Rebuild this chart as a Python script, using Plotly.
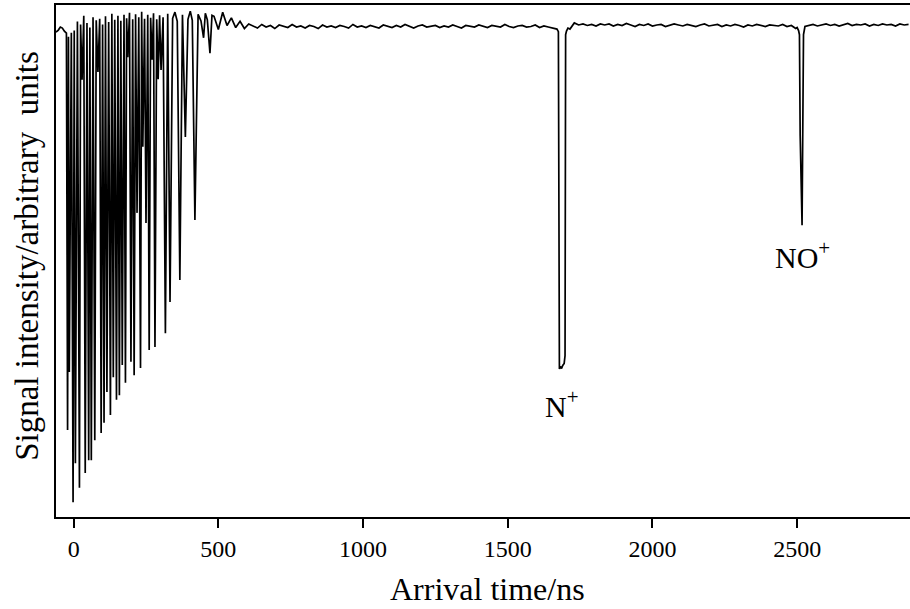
import plotly.graph_objects as go

# ---------------- data (arrival time in ns, signal in arbitrary units) ----------------
# baseline before the first ions arrive
pre_t = [-61, -53, -46, -39, -32, -25]
pre_v = [94.7, 95.1, 95.7, 95.5, 94.9, 94.5]

# dense train of light-ion arrival spikes (time, minimum of spike)
spike_t = [-21, -15, -2, 6, 20, 29, 40, 52, 61, 73, 84, 95, 105, 115, 127, 137, 148, 158,
           168, 179, 187, 198, 209, 219, 231, 239, 250, 261, 271, 281, 292, 302, 317, 333,
           367, 386, 419, 471]
spike_v = [17.0, 28.3, 2.9, 10.5, 5.7, 85.4, 8.6, 11.1, 11.1, 15.0, 86.9, 16.4, 18.4, 24.4,
           19.9, 27.3, 22.9, 23.8, 29.7, 26.2, 89.8, 30.3, 27.7, 59.4, 29.1, 72.3, 57.4, 32.6,
           89.3, 33.2, 85.5, 87.3, 35.9, 42.0, 46.3, 74.2, 58.0, 90.6]

# signal level between the spikes in the dense region
gap_t = [-18, -8, 2, 13, 24, 35, 46, 56, 67, 78, 90, 100, 110, 121, 132, 142, 153, 163, 174,
         183, 193, 204, 214, 225, 235, 245, 256, 266, 276, 287, 297, 309, 325, 342, 350, 358,
         376, 395, 403, 410, 430, 440, 449, 455, 462, 478]
gap_v = [93.8, 94.6, 95.0, 96.8, 96.2, 97.9, 96.5, 95.6, 97.6, 97.0, 97.3, 96.2, 97.8, 96.7,
         98.3, 97.1, 97.9, 96.9, 98.1, 97.4, 98.5, 97.2, 98.2, 97.6, 98.7, 97.3, 98.1, 97.5,
         98.4, 97.2, 98.0, 97.6, 98.3, 97.4, 98.6, 96.8, 98.1, 97.2, 98.8, 97.0, 98.2, 96.9,
         93.6, 98.4, 97.1, 98.0]

# flat baseline after the light ions, one reading every 15 ns starting at 485 ns
flat_t0 = 485
flat_dt = 15
flat_v = [97.8, 95.2, 98.6, 96.0, 97.5, 95.6, 96.8, 95.4, 96.3, 95.9,
          95.5, 96.2, 95.7, 96.0, 95.4, 96.1, 95.8, 95.6, 96.2, 95.7,
          95.9, 95.5, 96.0, 95.8, 95.4, 96.1, 95.7, 95.9, 95.6, 96.0,
          95.8, 95.5, 96.2, 95.7, 95.9, 95.6, 96.0, 95.8, 95.5, 96.1,
          95.9, 95.6, 96.0, 95.7, 96.2, 95.8, 95.5, 95.9, 96.1, 95.7,
          95.8, 96.0, 95.6, 95.9, 95.7, 96.1, 95.8, 95.5, 96.0, 95.9,
          95.7, 96.1, 95.8, 95.6, 96.0, 95.9, 95.7, 96.2, 95.8, 95.6,
          95.9, 96.0, 95.7, 95.8, 96.1, 95.6, 95.9, 95.7, 95.5, 95.3,
          95.0, 96.0, 95.3, 96.5, 96.1, 96.3, 96.0, 96.2, 95.9, 96.3,
          96.1, 96.3, 95.9, 96.2, 96.0, 96.4, 96.1, 95.8, 96.2, 96.0,
          96.3, 95.9, 96.1, 96.2, 95.8, 96.0, 96.3, 96.1, 95.9, 96.2,
          96.0, 95.8, 96.1, 96.3, 95.9, 96.0, 96.2, 95.8, 96.1, 95.9,
          96.2, 96.0, 95.7, 96.1, 95.9, 96.2, 96.0, 95.8, 96.1, 96.0,
          95.9, 96.2, 95.8, 96.0, 95.4, 95.0, 95.4, 96.0, 96.2, 95.9,
          96.1, 96.3, 96.0, 96.2, 95.9, 96.1, 96.4, 96.0, 96.2, 96.1,
          96.3, 95.9, 96.2, 96.0, 96.3, 96.1, 96.2, 95.9, 96.3, 96.1, 96.2]

# N+ peak
nplus_t = [1675, 1677, 1678.5, 1682, 1686, 1690, 1695, 1698, 1700, 1703, 1708]
nplus_v = [94.8, 30.5, 28.9, 29.4, 29.0, 29.6, 30.0, 31.5, 94.2, 94.9, 95.5]

# NO+ peak
noplus_t = [2500, 2505, 2508, 2509, 2510.5, 2517, 2522, 2527]
noplus_v = [95.6, 95.0, 94.2, 76.0, 74.5, 57.0, 94.2, 95.8]

peak_windows = [(1672, 1712), (2503, 2530)]

x_ticks = [0, 500, 1000, 1500, 2000, 2500]
labels = [("N<sup>+</sup>", 1689, 22.0), ("NO<sup>+</sup>", 2519, 51.2)]

# ---------------- assemble the trace ----------------
pts = list(zip(pre_t, pre_v)) + list(zip(spike_t, spike_v)) + list(zip(gap_t, gap_v))
for i, v in enumerate(flat_v):
    t = flat_t0 + i * flat_dt
    if any(a <= t <= b for a, b in peak_windows):
        continue
    pts.append((t, v))
pts += list(zip(nplus_t, nplus_v)) + list(zip(noplus_t, noplus_v))
pts.sort(key=lambda p: p[0])
xs = [p[0] for p in pts]
ys = [p[1] for p in pts]

FONT = "Liberation Serif, Times New Roman, serif"

fig = go.Figure()
fig.add_trace(go.Scatter(x=xs, y=ys, mode="lines",
                         line=dict(color="black", width=1.7), hoverinfo="skip"))

for txt, lx, ly in labels:
    fig.add_annotation(x=lx, y=ly, text=txt, showarrow=False,
                       font=dict(family=FONT, size=30, color="black"),
                       xanchor="center", yanchor="middle")

fig.add_annotation(xref="paper", yref="paper", x=0.505, y=-0.14,
                   text="Arrival time/ns", showarrow=False,
                   font=dict(family=FONT, size=32, color="black"),
                   xanchor="center", yanchor="middle")
fig.add_annotation(xref="paper", yref="paper", x=-0.034, y=0.51,
                   text="Signal intensity/arbitrary\u00a0 units", showarrow=False,
                   textangle=-90,
                   font=dict(family=FONT, size=33, color="black"),
                   xanchor="center", yanchor="middle")

fig.update_layout(
    width=910, height=609,
    margin=dict(l=56, r=0, t=5, b=92),
    paper_bgcolor="white", plot_bgcolor="white",
    showlegend=False,
    font=dict(family=FONT, size=24, color="black"),
)
fig.update_xaxes(range=[-61, 2890], tickvals=x_ticks, ticks="outside", ticklen=9,
                 tickwidth=2, tickcolor="black", showline=True, linecolor="black",
                 linewidth=2, mirror=True, showgrid=False, zeroline=False,
                 tickfont=dict(family=FONT, size=24, color="black"))
fig.update_yaxes(range=[0, 100], showticklabels=False, ticks="", showline=True,
                 linecolor="black", linewidth=2, mirror=False, showgrid=False,
                 zeroline=False)

fig.write_html("out.html", config={"displayModeBar": False})
